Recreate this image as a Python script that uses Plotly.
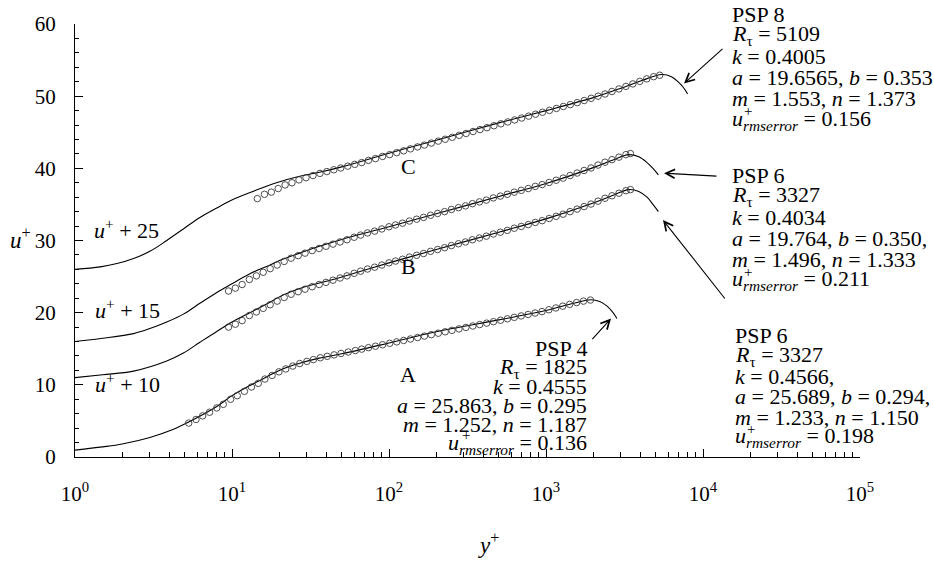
import plotly.graph_objects as go

# ---------------- data ----------------
off_A, off_B, off_Bp, off_C = 0, 10, 15, 25

# measured profiles (open circles), raw u+ values
psp4_y = [5.3, 5.9, 6.5, 7.2, 8.0, 8.8, 9.8, 10.8, 12.0, 13.3, 14.7, 16.2, 18.0, 19.9, 22, 24.4, 27, 30, 33,
          36.5, 40.4, 44.7, 49.5, 55, 61, 67, 74, 82, 91, 101, 112, 124, 137, 152, 168, 186, 206, 228, 252,
          279, 309, 342, 378, 419, 463, 513, 568, 628, 695, 770, 852, 943, 1043, 1155, 1278, 1415, 1566,
          1733, 1918]
psp4_u = [4.7, 5.2, 5.7, 6.2, 6.8, 7.3, 8.0, 8.5, 9.1, 9.7, 10.2, 10.8, 11.3, 11.8, 12.2, 12.6, 12.95, 13.25,
          13.5, 13.75, 13.95, 14.15, 14.35, 14.55, 14.75, 14.95, 15.15, 15.35, 15.55, 15.75, 15.95, 16.15,
          16.35, 16.55, 16.75, 16.95, 17.15, 17.35, 17.55, 17.75, 17.95, 18.15, 18.35, 18.55, 18.75, 18.95,
          19.15, 19.35, 19.55, 19.75, 19.95, 20.15, 20.4, 20.65, 20.9, 21.15, 21.4, 21.6, 21.75]

psp6_y = [9.5, 10.5, 11.6, 12.9, 14.3, 15.8, 17.5, 19.4, 21.5, 23.8, 26.4, 29.2, 32.4, 35.9, 39.7, 44, 48.8,
          54, 60, 66, 73, 81, 90, 100, 110, 122, 135, 150, 166, 184, 204, 226, 250, 277, 307, 340, 377, 417,
          462, 512, 567, 628, 696, 771, 854, 946, 1048, 1161, 1286, 1424, 1578, 1748, 1936, 2145, 2376, 2632,
          2916, 3230, 3450]
psp6_u = [8.0, 8.4, 8.9, 9.6, 10.1, 10.6, 11.1, 11.6, 12.1, 12.55, 12.9, 13.25, 13.6, 13.9, 14.2, 14.5, 14.8,
          15.1, 15.45, 15.75, 16.05, 16.3, 16.6, 16.9, 17.15, 17.4, 17.7, 17.95, 18.2, 18.5, 18.75, 19.0,
          19.3, 19.55, 19.8, 20.1, 20.35, 20.6, 20.9, 21.15, 21.4, 21.7, 21.95, 22.2, 22.5, 22.75, 23.05,
          23.35, 23.65, 24.0, 24.35, 24.7, 25.05, 25.45, 25.85, 26.2, 26.55, 26.9, 27.05]

psp8_y = [14.5, 16.1, 17.8, 19.7, 21.8, 24.1, 26.7, 29.6, 32.8, 36.3, 40.2, 44.5, 49.3, 54.6, 60.5, 67, 74,
          82, 91, 101, 112, 124, 137, 152, 168, 186, 206, 228, 253, 280, 310, 343, 380, 421, 466, 516, 571,
          632, 700, 775, 858, 950, 1052, 1165, 1290, 1428, 1581, 1751, 1939, 2147, 2377, 2632, 2915, 3228,
          3574, 3957, 4382, 4852, 5300]
psp8_u = [10.8, 11.4, 11.7, 12.2, 12.7, 13.0, 13.4, 13.7, 14.0, 14.3, 14.55, 14.8, 15.05, 15.3, 15.55, 15.8,
          16.1, 16.35, 16.65, 16.9, 17.17, 17.43, 17.7, 17.97, 18.23, 18.5, 18.77, 19.03, 19.3, 19.57, 19.83,
          20.1, 20.37, 20.63, 20.9, 21.17, 21.43, 21.7, 21.97, 22.23, 22.5, 22.77, 23.03, 23.3, 23.57, 23.83,
          24.1, 24.4, 24.7, 25.0, 25.3, 25.65, 26.0, 26.35, 26.7, 27.05, 27.4, 27.7, 27.9]

# fitted profiles (solid lines), raw u+ values
fitA_y = [1, 1.5, 2, 3, 4.2, 5.3, 8, 10, 13, 16.6, 21, 27, 36, 50, 100, 200, 500, 1000, 1500, 1930, 2200,
          2450, 2650, 2830]
fitA_u = [0.95, 1.4, 1.8, 2.7, 3.8, 4.85, 7.0, 8.5, 9.9, 11.1, 12.2, 13.0, 13.7, 14.3, 15.8, 17.35, 19.0,
          20.3, 21.3, 21.8, 21.55, 20.9, 20.1, 19.2]

fitB_y = [1, 1.5, 2.36, 3.84, 4.9, 6.25, 8, 10, 13, 16.6, 21, 27, 36, 50, 100, 200, 500, 1000, 2000, 2700,
          3350, 3900, 4400, 4800, 5200]
fitB_u = [1.0, 1.4, 1.9, 3.3, 4.4, 5.9, 7.4, 8.7, 10.0, 11.2, 12.4, 13.35, 14.1, 14.95, 16.9, 18.75, 21.15,
          23.0, 25.2, 26.3, 27.05, 26.8, 26.0, 25.0, 24.0]

fitBp_y = [1, 1.5, 2.36, 3, 3.84, 4.9, 6.25, 8, 10, 13, 16.6, 21, 27, 36, 50, 100, 200, 500, 1000, 2000,
           2700, 3350, 3900, 4400, 4800, 5200]
fitBp_u = [1.0, 1.45, 2.1, 2.8, 3.7, 4.8, 6.3, 7.8, 9.0, 10.4, 11.4, 12.4, 13.25, 14.2, 15.15, 16.9, 18.7,
           21.1, 22.9, 25.1, 26.2, 26.9, 26.6, 25.8, 25.0, 24.1]

fitC_y = [1, 1.45, 1.85, 2.36, 3, 3.84, 4.9, 6.25, 8, 10.2, 13.6, 19.2, 27, 36, 50, 100, 200, 500, 1000,
          2000, 3000, 4000, 5460, 6300, 7000, 7500, 7980]
fitC_u = [1.0, 1.35, 1.8, 2.5, 3.5, 5.0, 6.6, 8.2, 9.5, 10.7, 11.8, 13.0, 13.9, 14.45, 15.2, 17.1, 18.9,
          21.3, 23.0, 24.8, 26.1, 27.1, 28.0, 27.7, 26.9, 26.2, 25.3]

xtick_vals = [1, 10, 100, 1000, 10000, 100000]
xtick_text = ["10<sup>0</sup>", "10<sup>1</sup>", "10<sup>2</sup>", "10<sup>3</sup>", "10<sup>4</sup>",
              "10<sup>5</sup>"]
ytick_vals = [0, 10, 20, 30, 40, 50, 60]

# ---------------- figure ----------------
FONT = "Liberation Serif"
W, H = 934, 569
X0, X1, Y0, Y1 = 75, 860, 13, 457          # plot area in pixels
L, R, T, B = X0, W - X1, Y0, H - Y1


def px(x):
    return (x - X0) / (X1 - X0)


def py(y):
    return (Y1 - y) / (Y1 - Y0)


fig = go.Figure()

line_style = dict(color="black", width=1.1)
mk = dict(symbol="circle-open", size=6.5, color="#3a3a3a", line=dict(width=0.9, color="#3a3a3a"))

for xs, us, off in [(fitA_y, fitA_u, off_A), (fitB_y, fitB_u, off_B), (fitBp_y, fitBp_u, off_Bp),
                    (fitC_y, fitC_u, off_C)]:
    fig.add_trace(go.Scatter(x=xs, y=[u + off for u in us], mode="lines",
                             line=dict(shape="spline", smoothing=1.0, **line_style),
                             showlegend=False, hoverinfo="skip"))

for xs, us, off in [(psp4_y, psp4_u, off_A), (psp6_y, psp6_u, off_B), (psp6_y, psp6_u, off_Bp),
                    (psp8_y, psp8_u, off_C)]:
    fig.add_trace(go.Scatter(x=xs, y=[u + off for u in us], mode="markers", marker=mk,
                             showlegend=False, hoverinfo="skip"))

fs = 22
ann = []


def text(x, y, s, xanchor="left", size=fs):
    ann.append(dict(xref="paper", yref="paper", x=px(x), y=py(y), text=s, showarrow=False,
                    xanchor=xanchor, yanchor="middle", borderpad=0,
                    font=dict(family=FONT, size=size, color="black")))


def arrow(x0, y0, x1, y1):
    ann.append(dict(xref="paper", yref="paper", x=px(x1), y=py(y1), ax=x0 - x1, ay=y0 - y1,
                    axref="pixel", ayref="pixel", text="", showarrow=True, arrowhead=5,
                    arrowsize=1.6, arrowwidth=1.1, arrowcolor="black", standoff=0))


urms = "<i>u</i><sub><i>rmserror</i></sub>"
blocks = [
    (731, [3, 24.5, 46, 67.5, 89, 111], "left",
     ["PSP 8", "<i>R</i><sub>τ</sub> = 5109", "<i>k</i> = 0.4005", "<i>a</i> = 19.6565, <i>b</i> = 0.353",
      "<i>m</i> = 1.553, <i>n</i> = 1.373", urms + " = 0.156"]),
    (731, [168, 189.5, 211, 232.5, 254, 276], "left",
     ["PSP 6", "<i>R</i><sub>τ</sub> = 3327", "<i>k</i> = 0.4034", "<i>a</i> = 19.764, <i>b</i> = 0.350,",
      "<i>m</i> = 1.496, <i>n</i> = 1.333", urms + " = 0.211"]),
    (734, [332, 353, 374, 395, 416, 437], "left",
     ["PSP 6", "<i>R</i><sub>τ</sub> = 3327", "<i>k</i> = 0.4566,", "<i>a</i> = 25.689, <i>b</i> = 0.294,",
      "<i>m</i> = 1.233, <i>n</i> = 1.150", urms + " = 0.198"]),
    (588, [346, 365.5, 385, 404.5, 424, 443.5], "right",
     ["PSP 4", "<i>R</i><sub>τ</sub> = 1825", "<i>k</i> = 0.4555", "<i>a</i> = 25.863, <i>b</i> = 0.295",
      "<i>m</i> = 1.252, <i>n</i> = 1.187", urms + " = 0.136"]),
]
for x, ys, anc, lines in blocks:
    for y, s in zip(ys, lines):
        text(x, y, s, anc)

# superscript "+" stacked above the "rmserror" subscript of each u line
for xp, yl in [(742.5, 111), (742.5, 276), (745.5, 437), (460.5, 443.5)]:
    text(xp, yl - 9, "+", "left", 15)

arrow(724, 38, 684, 74)
arrow(718, 169, 664, 166)
arrow(726, 294, 663, 214)
arrow(591, 337, 611, 315)

text(408, 159, "C", "center")
text(408, 262, "B", "center")
text(408, 372, "A", "center")
text(126, 223, "<i>u</i><sup>+</sup> + 25", "center")
text(127, 305, "<i>u</i><sup>+</sup> + 15", "center")
text(127, 381, "<i>u</i><sup>+</sup> + 10", "center")
text(20, 233, "<i>u</i><sup>+</sup>", "center", 23)
text(488, 546, "<i>y</i><sup>+</sup>", "center", 23)

fig.update_layout(
    width=W, height=H, margin=dict(l=L, r=R, t=T, b=B), paper_bgcolor="white", plot_bgcolor="white",
    font=dict(family=FONT, size=fs, color="black"), annotations=ann, showlegend=False,
)
fig.update_xaxes(type="log", range=[0, 5], showline=True, linecolor="black", linewidth=1, mirror=False,
                 ticks="inside", ticklen=8, tickwidth=1, tickcolor="black", showgrid=False, zeroline=False,
                 tickvals=xtick_vals, ticktext=xtick_text, tickfont=dict(family=FONT, size=21),
                 ticklabelstandoff=18,
                 minor=dict(ticks="inside", ticklen=5, tickwidth=1, tickcolor="black", dtick="D1",
                            showgrid=False))
fig.update_yaxes(range=[0, 60], showline=True, linecolor="black", linewidth=1, mirror=False,
                 ticks="inside", ticklen=8, tickwidth=1, tickcolor="black", showgrid=False, zeroline=False,
                 tickvals=ytick_vals, tickfont=dict(family=FONT, size=21), ticklabelstandoff=14,
                 minor=dict(ticks="inside", ticklen=4, tickwidth=1, tickcolor="black", dtick=2,
                            showgrid=False))

# the page body's default margin would shift the figure; remove it so the figure fills the window
fig.write_html("out.html", config={"displayModeBar": False},
               post_script="document.body.style.margin='0px';")
